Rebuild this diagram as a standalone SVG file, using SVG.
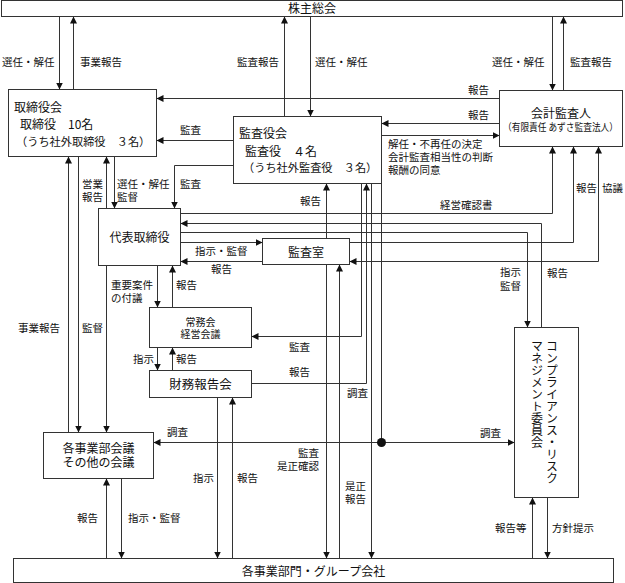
<svg xmlns="http://www.w3.org/2000/svg" width="625" height="583" viewBox="0 0 625 583">
<style>
.box{fill:#fff;stroke:#333;stroke-width:1}
.c{fill:none;stroke:#333;stroke-width:1}
.ca{fill:none;stroke:#333;stroke-width:1;marker-end:url(#ah)}
text{font-family:"Noto Sans CJK JP","Noto Sans CJK SC",sans-serif;fill:#111}
.t{font-size:12px}
.l{font-size:10.5px}
.s{font-size:10px}
.m{text-anchor:middle}
.e{text-anchor:end}
.vt{font-size:12px;writing-mode:vertical-rl}
</style>
<defs>
<marker id="ah" markerUnits="userSpaceOnUse" markerWidth="7" markerHeight="7" refX="7" refY="3.5" orient="auto">
<path d="M0,0 L7,3.5 L0,7 Z" fill="#111"/>
</marker>
<marker id="as" markerUnits="userSpaceOnUse" markerWidth="7" markerHeight="7" refX="7" refY="3.5" orient="auto-start-reverse">
<path d="M0,0 L7,3.5 L0,7 Z" fill="#111"/>
</marker>
</defs>

<g id="connectors">
<path class="ca" d="M59.5,16.5 V89.5"/>
<path class="ca" d="M73.5,89.5 V16.5"/>
<path class="ca" d="M284.5,116.5 V16.5"/>
<path class="ca" d="M310.5,16.5 V116.5"/>
<path class="ca" d="M552.5,16.5 V90.5"/>
<path class="ca" d="M563.5,90.5 V16.5"/>
<path class="ca" d="M499.5,98.5 H156.5"/>
<path class="ca" d="M499.5,123.5 H381.5"/>
<path class="ca" d="M381.5,135.5 H499.5"/>
<path class="ca" d="M233.5,140.5 H156.5"/>
<path class="ca" d="M233.5,165.5 H174.5 V208.5"/>
<path class="ca" d="M68.5,432.5 V156.5"/>
<path class="ca" d="M78.5,156.5 V432.5"/>
<path class="ca" d="M106.5,208.5 V156.5"/>
<path class="ca" d="M114.5,156.5 V208.5"/>
<path class="ca" d="M106.5,265.5 V432.5"/>
<path class="ca" d="M157.5,265.5 V307.5"/>
<path class="ca" d="M172.5,307.5 V265.5"/>
<path class="ca" d="M157.5,347.5 V370.5"/>
<path class="ca" d="M172.5,370.5 V347.5"/>
<path class="ca" d="M180.5,242.5 H262.5"/>
<path class="ca" d="M262.5,261.5 H180.5"/>
<path class="ca" d="M180.5,213.5 H552.5 V146.5"/>
<path class="ca" d="M541.5,327.5 V223.5 H180.5"/>
<path class="ca" d="M180.5,232.5 H527.5 V327.5"/>
<path class="ca" d="M349.5,242.5 H573.5 V146.5"/>
<path class="ca" d="M598.5,146.5 V261.5 H349.5" marker-start="url(#as)"/>
<path class="ca" d="M326.5,238.5 V183.5"/>
<path class="ca" d="M326.5,264.5 V558.5"/>
<path class="ca" d="M339.5,558.5 V264.5"/>
<path class="ca" d="M361.5,183.5 V336.5 H251.5"/>
<path class="ca" d="M251.5,383.5 H366.5 V183.5"/>
<path class="ca" d="M371.5,183.5 V558.5"/>
<path class="c" d="M381.5,183.5 V442.5"/>
<path class="ca" d="M381.5,442.5 H153.5"/>
<path class="ca" d="M381.5,442.5 H514.5"/>
<circle cx="381.5" cy="442.5" r="4.5" fill="#111"/>
<path class="ca" d="M217.5,397.5 V558.5"/>
<path class="ca" d="M232.5,558.5 V397.5"/>
<path class="ca" d="M106.5,558.5 V478.5"/>
<path class="ca" d="M121.5,478.5 V558.5"/>
<path class="ca" d="M532.5,558.5 V497.5"/>
<path class="ca" d="M547.5,497.5 V558.5"/>
</g>

<g id="labels" class="l">
<text class="l" x="2" y="66">選任・解任</text>
<text class="l" x="80" y="66">事業報告</text>
<text class="l" x="237" y="66">監査報告</text>
<text class="l" x="315" y="66">選任・解任</text>
<text class="l" x="492" y="66">選任・解任</text>
<text class="l" x="570" y="66">監査報告</text>
<text class="l" x="468" y="94">報告</text>
<text class="l" x="468" y="119">報告</text>
<text class="l" x="388" y="148">解任・不再任の決定</text>
<text class="l" x="388" y="161">会計監査相当性の判断</text>
<text class="l" x="388" y="174">報酬の同意</text>
<text class="l" x="180" y="134">監査</text>
<text class="l" x="82" y="188">営業</text>
<text class="l" x="82" y="201">報告</text>
<text class="l" x="117" y="188">選任・解任</text>
<text class="l" x="117" y="201">監督</text>
<text class="l" x="180" y="188">監査</text>
<text class="l" x="300" y="205">報告</text>
<text class="l" x="440" y="209">経営確認書</text>
<text class="l" x="576" y="192">報告</text>
<text class="l" x="602" y="192">協議</text>
<text class="l" x="195" y="255">指示・監督</text>
<text class="l" x="211" y="273">報告</text>
<text class="l" x="500" y="276">指示</text>
<text class="l" x="500" y="290">監督</text>
<text class="l" x="547" y="277">報告</text>
<text class="l" x="111" y="289">重要案件</text>
<text class="l" x="111" y="302">の付議</text>
<text class="l" x="176" y="289">報告</text>
<text class="l" x="18" y="332">事業報告</text>
<text class="l" x="82" y="332">監督</text>
<text class="l" x="289" y="351">監査</text>
<text class="l" x="289" y="376">報告</text>
<text class="l" x="133" y="363">指示</text>
<text class="l" x="176" y="363">報告</text>
<text class="l" x="347" y="397">調査</text>
<text class="l" x="167" y="436">調査</text>
<text class="l" x="480" y="437">調査</text>
<text class="l e" x="319" y="457">監査</text>
<text class="l e" x="319" y="470">是正確認</text>
<text class="l" x="345" y="490">是正</text>
<text class="l" x="345" y="503">報告</text>
<text class="l" x="193" y="482">指示</text>
<text class="l" x="237" y="482">報告</text>
<text class="l" x="77" y="522">報告</text>
<text class="l" x="128" y="522">指示・監督</text>
<text class="l" x="495" y="532">報告等</text>
<text class="l" x="552" y="532">方針提示</text>
</g>

<g id="shareholders">
<rect class="box" x="1.5" y="0.5" width="621" height="16"/>
<text class="t m" x="312" y="12.5">株主総会</text>
</g>

<g id="board">
<rect class="box" x="8.5" y="89.5" width="148" height="67"/>
<text class="t" x="14" y="111.5">取締役会</text>
<text class="t" x="20" y="128.5">取締役　10名</text>
<text class="t" x="16" y="145.5" style="font-size:11.2px">（うち社外取締役　３名）</text>
</g>

<g id="auditors-board">
<rect class="box" x="233.5" y="116.5" width="148" height="67"/>
<text class="t" x="239" y="137.5">監査役会</text>
<text class="t" x="245" y="155.5">監査役　４名</text>
<text class="t" x="243" y="171.5" style="font-size:11.2px">（うち社外監査役　３名）</text>
</g>

<g id="accounting-auditor">
<rect class="box" x="499.5" y="90.5" width="123" height="56"/>
<text class="t m" x="561" y="117.5">会計監査人</text>
<text class="s m" x="560.5" y="131" textLength="115" lengthAdjust="spacingAndGlyphs">（有限責任 あずさ監査法人）</text>
</g>

<g id="representative">
<rect class="box" x="98.5" y="208.5" width="82" height="57"/>
<text class="t m" x="139.5" y="241.5">代表取締役</text>
</g>

<g id="audit-office">
<rect class="box" x="262.5" y="238.5" width="87" height="26"/>
<text class="t m" x="306" y="256.5">監査室</text>
</g>

<g id="executive-committee">
<rect class="box" x="149.5" y="307.5" width="102" height="40"/>
<text class="s m" x="200.5" y="326">常務会</text>
<text class="s m" x="200.5" y="338">経営会議</text>
</g>

<g id="financial-reporting">
<rect class="box" x="149.5" y="370.5" width="102" height="27"/>
<text class="t m" x="200.5" y="388.5" style="font-size:12.5px">財務報告会</text>
</g>

<g id="division-meetings">
<rect class="box" x="43.5" y="432.5" width="110" height="46"/>
<text class="t m" x="98.5" y="452.5">各事業部会議</text>
<text class="t m" x="98.5" y="466.5">その他の会議</text>
</g>

<g id="compliance-committee">
<rect class="box" x="514.5" y="327.5" width="64" height="170"/>
<text class="vt" x="552" y="340">コンプライアンス・リスク</text>
<text class="vt" x="537" y="340">マネジメント委員会</text>
</g>

<g id="divisions">
<rect class="box" x="13.5" y="558.5" width="600" height="24"/>
<text class="t m" x="313.5" y="575.5">各事業部門・グループ会社</text>
</g>
</svg>
